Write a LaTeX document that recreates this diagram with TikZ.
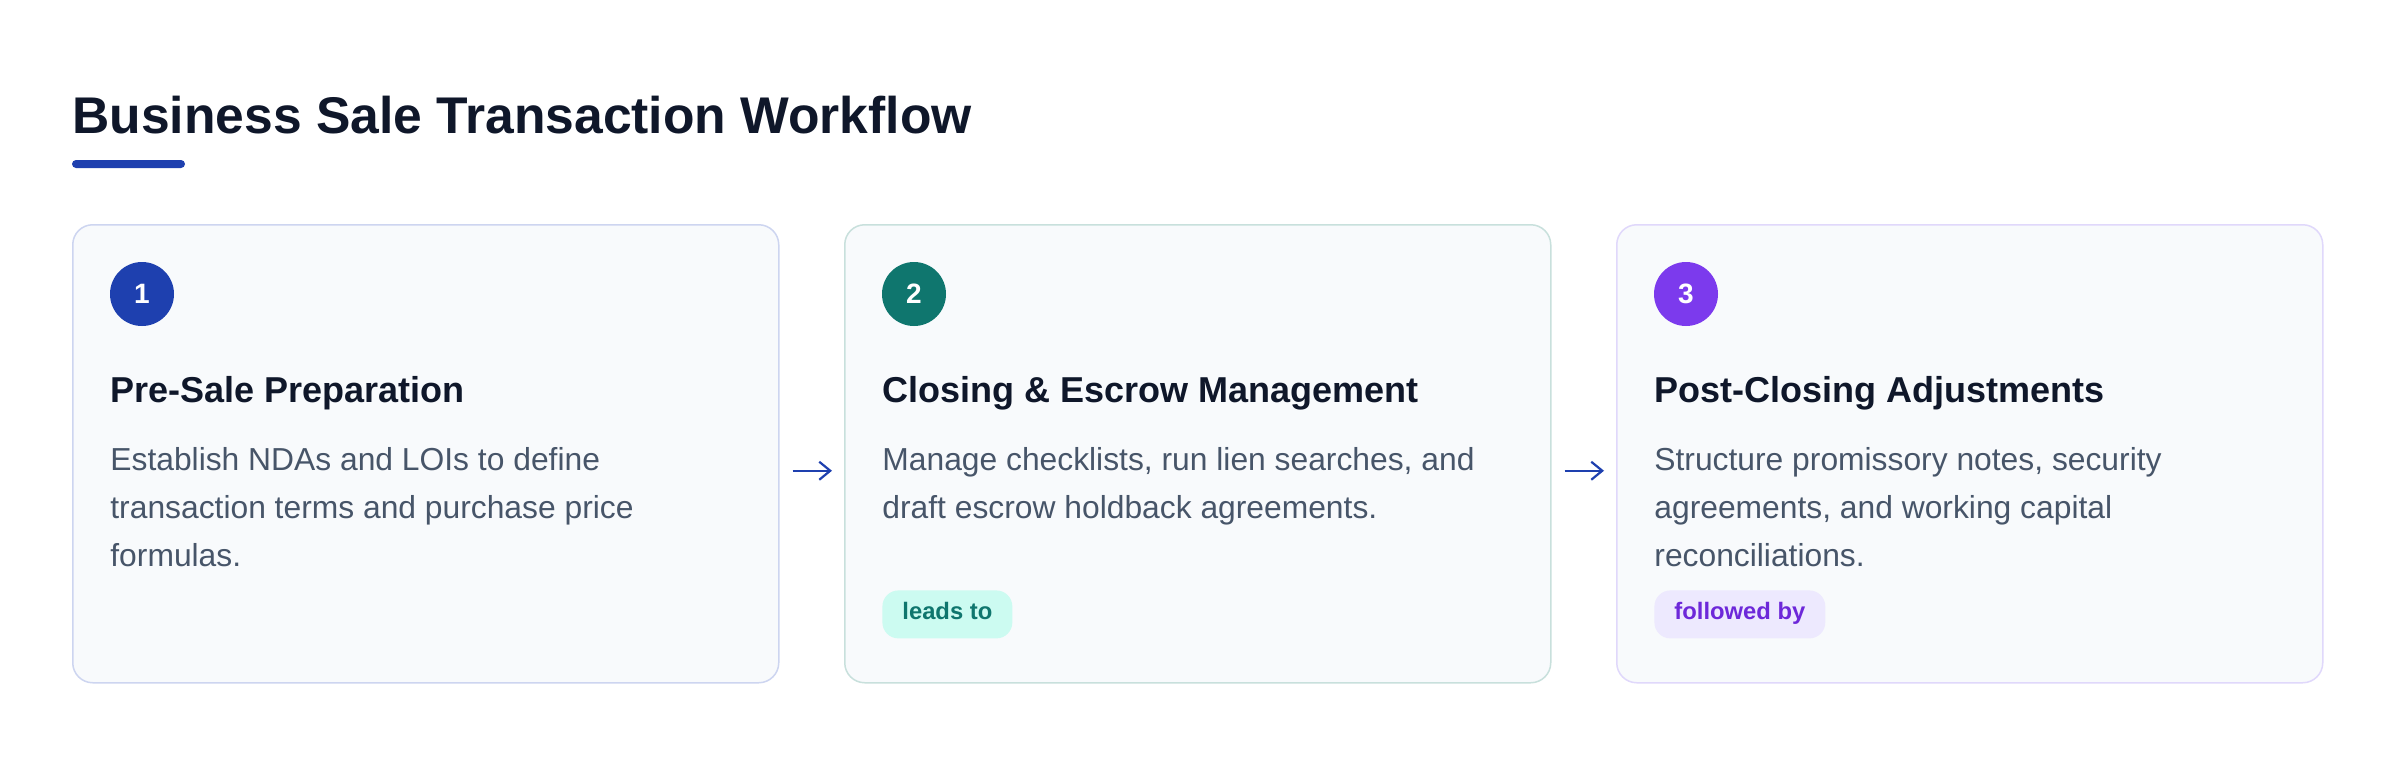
\documentclass[tikz,border=0pt]{standalone}
\usepackage{fontspec}
\setmainfont{Liberation Sans}
\usetikzlibrary{arrows.meta}
\definecolor{titlec}{HTML}{0F172A}
\definecolor{blueac}{HTML}{1E40AF}
\definecolor{tealac}{HTML}{0F766E}
\definecolor{violac}{HTML}{7C3AED}
\definecolor{cardfill}{HTML}{F8FAFC}
\definecolor{bordera}{HTML}{CDD5F0}
\definecolor{borderb}{HTML}{C8E0DC}
\definecolor{borderc}{HTML}{E0D8FB}
\definecolor{descc}{HTML}{475569}
\definecolor{badgebfill}{HTML}{CCFBF1}
\definecolor{badgebtext}{HTML}{0F766E}
\definecolor{badgecfill}{HTML}{EDE9FE}
\definecolor{badgectext}{HTML}{6D28D9}
\tikzset{
  card/.style={draw, fill=cardfill, line width=0.75pt, rounded corners=10pt,
    minimum width=353pt, minimum height=229pt, inner sep=0pt, anchor=north west},
  numdot/.style={circle, minimum size=32pt, inner sep=0pt, text=white,
    font=\fontsize{14pt}{16pt}\selectfont\bfseries},
  cardtitle/.style={anchor=base west, inner sep=0pt, text=titlec,
    font=\fontsize{18pt}{22pt}\selectfont\bfseries},
  desc/.style={anchor=base west, inner sep=0pt, text=descc,
    font=\fontsize{15.9pt}{20pt}\selectfont},
  badge/.style={anchor=north west, rounded corners=8pt, minimum height=24pt,
    inner xsep=10pt, inner ysep=0pt, text height=0.75em, text depth=0.2em,
    font=\fontsize{11.9pt}{14pt}\selectfont\bfseries},
  flowarrow/.style={draw=blueac, line width=1pt,
    -{Straight Barb[length=5.5pt,width=9pt,line width=1.1pt]},
    shorten <=6.5pt, shorten >=6pt}
}
\begin{document}
\begin{tikzpicture}[x=0.5pt,y=-0.5pt]
\useasboundingbox[fill=white] (0,0) rectangle (2400,756);
% title
\node[anchor=base west, inner sep=0pt, text=titlec,
  font=\fontsize{25.8pt}{30pt}\selectfont\bfseries] (title) at (72,133)
  {Business Sale Transaction Workflow};
\fill[blueac, rounded corners=2pt] (72,160) rectangle (185,168);
% cards
\node[card, draw=bordera] (card1) at (72,224) {};
\node[card, draw=borderb] (card2) at (844,224) {};
\node[card, draw=borderc] (card3) at (1616,224) {};
% number circles
\node[numdot, fill=blueac] (n1) at (142,294) {1};
\node[numdot, fill=tealac] (n2) at (914,294) {2};
\node[numdot, fill=violac] (n3) at (1686,294) {3};
% titles
\node[cardtitle] (t1) at (110,402) {Pre-Sale Preparation};
\node[cardtitle] (t2) at (882,402) {Closing \& Escrow Management};
\node[cardtitle] (t3) at (1654,402) {Post-Closing Adjustments};
% descriptions
\node[desc] (d1a) at (110,470) {Establish NDAs and LOIs to define};
\node[desc] (d1b) at (110,518) {transaction terms and purchase price};
\node[desc] (d1c) at (110,566) {formulas.};
\node[desc] (d2a) at (882,470) {Manage checklists, run lien searches, and};
\node[desc] (d2b) at (882,518) {draft escrow holdback agreements.};
\node[desc] (d3a) at (1654,470) {Structure promissory notes, security};
\node[desc] (d3b) at (1654,518) {agreements, and working capital};
\node[desc] (d3c) at (1654,566) {reconciliations.};
% badges
\node[badge, fill=badgebfill, text=badgebtext] (b2) at (882,590) {leads to};
\node[badge, fill=badgecfill, text=badgectext] (b3) at (1654,590) {followed by};
% arrows
\draw[flowarrow] ([yshift=-8.5pt]card1.east) -- ([yshift=-8.5pt]card2.west);
\draw[flowarrow] ([yshift=-8.5pt]card2.east) -- ([yshift=-8.5pt]card3.west);
\end{tikzpicture}
\end{document}
